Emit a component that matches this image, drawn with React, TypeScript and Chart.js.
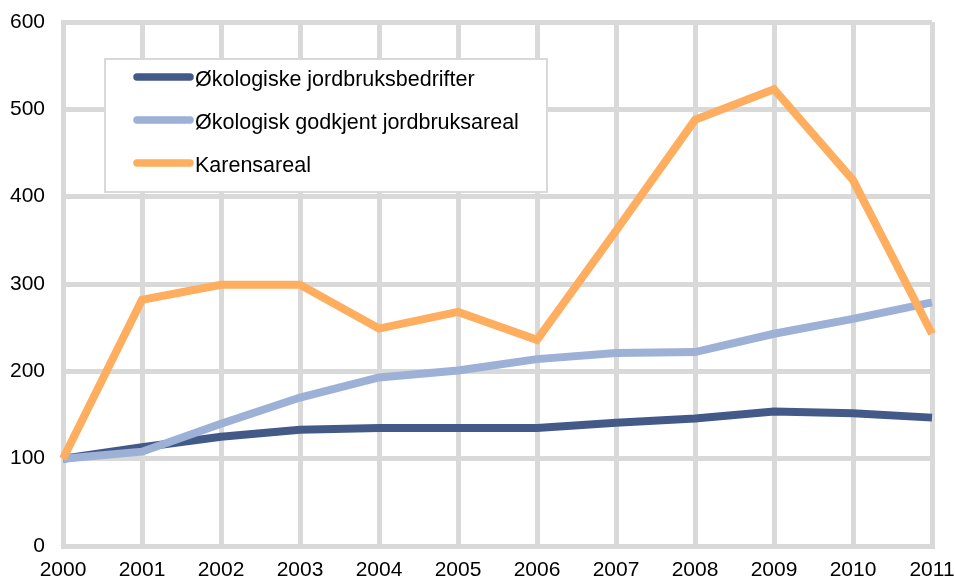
import React, { useEffect, useRef } from "react";
import { Chart, registerables } from "chart.js";

Chart.register(...registerables);

const years = ["2000", "2001", "2002", "2003", "2004", "2005", "2006", "2007", "2008", "2009", "2010", "2011"];
const bedrifter = [100, 113, 125, 133, 135, 135, 135, 141, 146, 154, 152, 147];
const godkjent = [100, 108, 140, 170, 193, 201, 214, 221, 222, 243, 260, 279];
const karens = [100, 282, 299, 299, 249, 268, 236, 361, 488, 523, 419, 243];
const seriesNames = ["Økologiske jordbruksbedrifter", "Økologisk godkjent jordbruksareal", "Karensareal"];
const seriesColors = ["#435A89", "#9DB0D6", "#FFAD5E"];
const yTicks = [0, 100, 200, 300, 400, 500, 600];

const FONT = "'Liberation Sans', Arial, sans-serif";
const GRID = "#D9D9D9";

const legendPlugin = {
  id: "boxLegend",
  beforeDatasetsDraw(chart: any) {
    const { ctx, chartArea } = chart;
    const x0 = chartArea.left + 42;
    const y0 = chartArea.top + 37;
    const w = 442;
    const h = 133;
    ctx.save();
    ctx.fillStyle = "#ffffff";
    ctx.fillRect(x0, y0, w, h);
    ctx.strokeStyle = GRID;
    ctx.lineWidth = 2;
    ctx.strokeRect(x0, y0, w, h);
    seriesNames.forEach((name, i) => {
      const ly = y0 + 18 + i * 43;
      ctx.strokeStyle = seriesColors[i];
      ctx.lineWidth = 7.5;
      ctx.lineCap = "round";
      ctx.beginPath();
      ctx.moveTo(x0 + 32, ly);
      ctx.lineTo(x0 + 85, ly);
      ctx.stroke();
      ctx.fillStyle = "#000000";
      ctx.font = `21.5px ${FONT}`;
      ctx.textBaseline = "middle";
      ctx.textAlign = "left";
      ctx.fillText(name, x0 + 90, ly + 3);
    });
    ctx.restore();
  },
};

export default function App() {
  const ref = useRef<HTMLCanvasElement | null>(null);
  useEffect(() => {
    document.body.style.margin = "0";
    const canvas = ref.current;
    if (!canvas) return;
    const datasets = [bedrifter, godkjent, karens].map((d, i) => ({
      label: seriesNames[i],
      data: d,
      borderColor: seriesColors[i],
      backgroundColor: seriesColors[i],
      borderWidth: 8,
      pointRadius: 0,
      tension: 0,
      fill: false,
      order: 2 - i,
    }));
    const chart = new Chart(canvas, {
      type: "line",
      data: { labels: years, datasets },
      plugins: [legendPlugin],
      options: {
        responsive: false,
        animation: false,
        devicePixelRatio: 1,
        layout: { padding: { top: 22, right: 23, left: 0, bottom: 0 } },
        plugins: { legend: { display: false }, tooltip: { enabled: false } },
        scales: {
          x: {
            offset: false,
            grid: { color: GRID, lineWidth: 5, drawTicks: false, offset: false },
            border: { color: GRID, width: 5 },
            ticks: { color: "#000", font: { family: FONT, size: 21 }, padding: 12, maxRotation: 0, autoSkip: false },
            afterFit: (s: any) => {
              s.height = 32;
              s.paddingLeft = 0;
              s.paddingRight = 0;
            },
          },
          y: {
            min: 0,
            max: 600,
            grid: { color: GRID, lineWidth: 5, drawTicks: false },
            border: { color: GRID, width: 5 },
            afterBuildTicks: (s: any) => {
              s.ticks = yTicks.map((v) => ({ value: v }));
            },
            ticks: { color: "#000", font: { family: FONT, size: 21 }, padding: 18 },
            afterFit: (s: any) => {
              s.width = 63;
              s.paddingTop = 0;
              s.paddingBottom = 0;
            },
          },
        },
      },
    });
    return () => chart.destroy();
  }, []);
  return (
    <div style={{ position: "absolute", left: 0, top: 0, width: 955, height: 578, background: "#fff" }}>
      <canvas ref={ref} width={955} height={578} />
    </div>
  );
}
